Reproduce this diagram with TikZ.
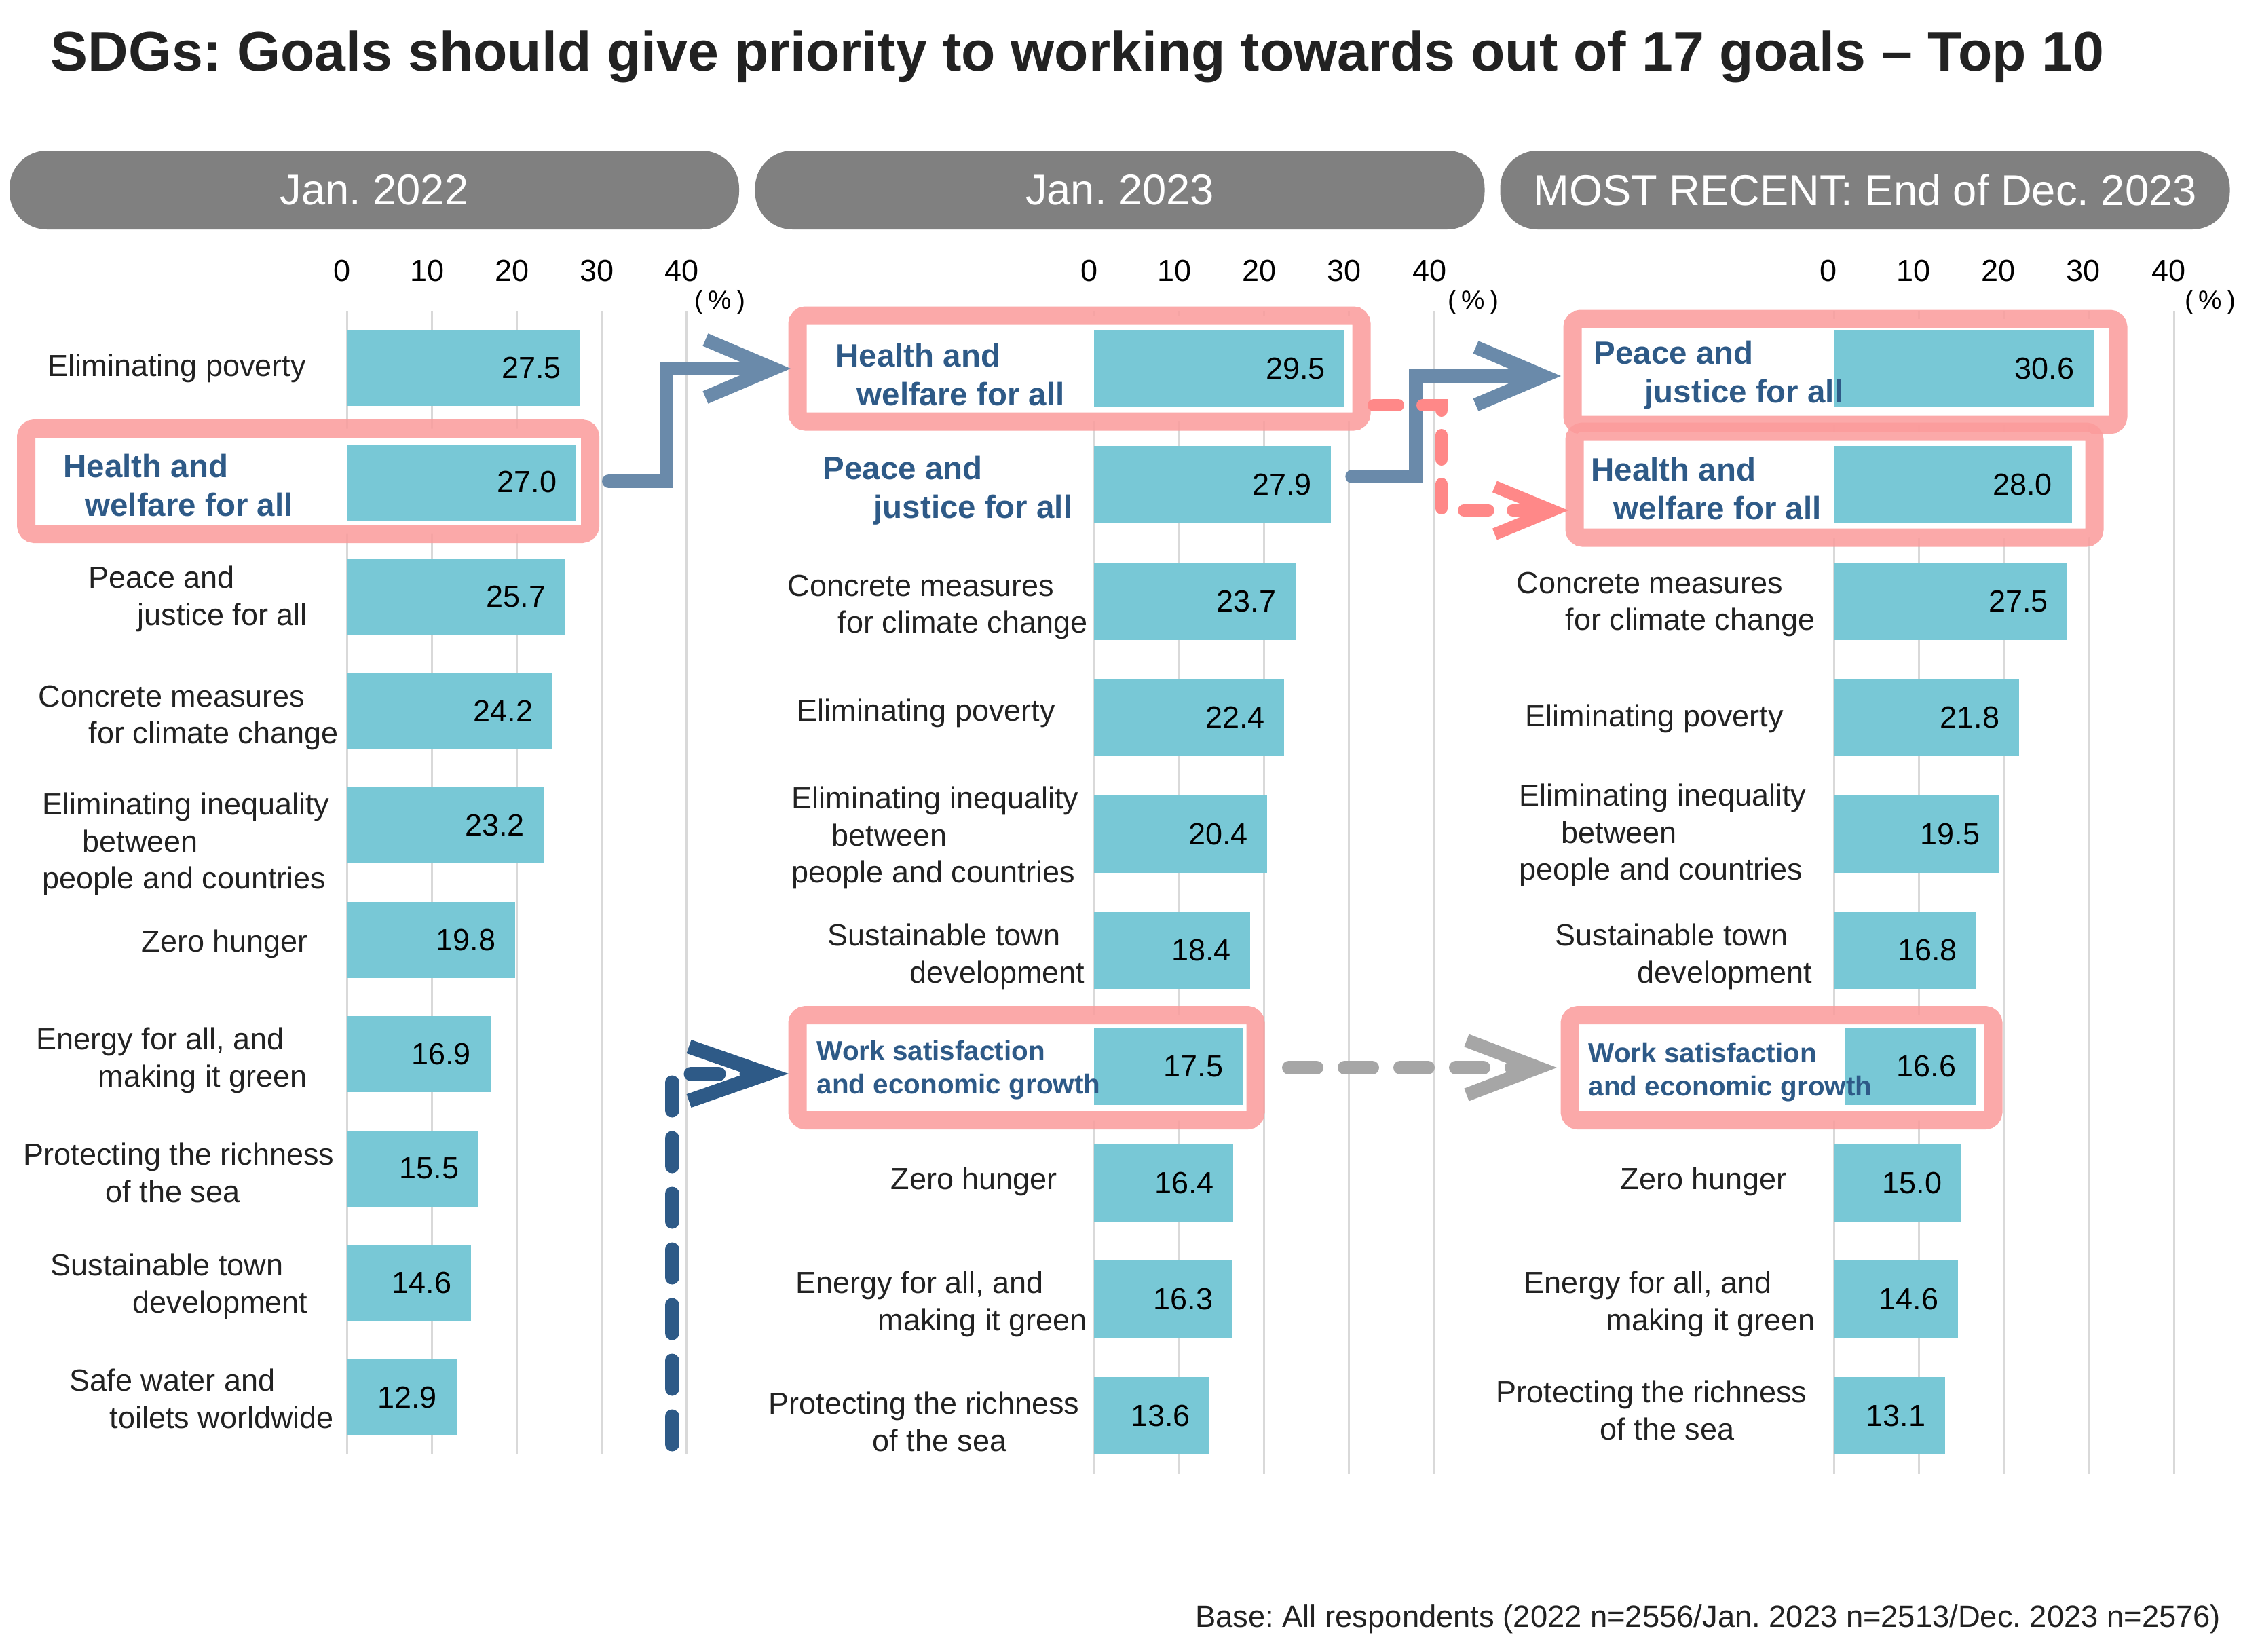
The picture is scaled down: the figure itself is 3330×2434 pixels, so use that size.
\documentclass[tikz,border=0pt]{standalone}
\usepackage{fontspec}
\setmainfont{Liberation Sans}
\usepackage{xcolor}
\usepackage{tikz}
\usetikzlibrary{arrows.meta}
\frenchspacing

\definecolor{headgray}{RGB}{128,128,128}
\definecolor{barteal}{RGB}{120,200,214}
\definecolor{gridgray}{RGB}{217,217,217}
\definecolor{hlpink}{RGB}{251,155,155}
\definecolor{hiblue}{RGB}{46,90,135}
\definecolor{slateblue}{RGB}{106,138,170}
\definecolor{dashpink}{RGB}{255,136,136}
\definecolor{dashgray}{RGB}{166,166,166}
\definecolor{inktext}{RGB}{34,34,34}

\begin{document}
\begin{tikzpicture}[x=0.1mm, y=-0.1mm,
    pill/.style={fill=headgray, rounded corners=5.5mm, minimum width=107.5mm, minimum height=11.6mm, inner sep=0, text=white, font=\fontsize{18}{21}\selectfont},
    tick/.style={inner sep=0, font=\fontsize{12.8}{15}\selectfont},
    unit/.style={inner sep=0, font=\fontsize{11}{13}\selectfont},
    gridline/.style={draw=gridgray, line width=0.3mm},
    hlbox/.style={draw=hlpink, draw opacity=0.85, fill=white, line width=2.7mm, rounded corners=1.2mm, inner sep=0, outer sep=0},
    barA/.style={fill=barteal, anchor=west, minimum height=11.2mm, inner sep=0, outer sep=0},
    barB/.style={barA, minimum height=11.4mm},
    val/.style={anchor=east, inner sep=0, font=\fontsize{12.8}{15}\selectfont},
    lab/.style={anchor=north west, align=left, inner sep=0, text=inktext, font=\fontsize{12.8}{15.6}\selectfont},
    hilab/.style={lab, text=hiblue, font=\fontsize{13.5}{16.2}\selectfont\bfseries},
    worklab/.style={lab, text=hiblue, font=\fontsize{11.5}{14.2}\selectfont\bfseries},
    moveup/.style={draw=slateblue, line width=2mm, line cap=round, -{Straight Barb[length=10mm, width=8.5mm]}},
    movedown/.style={draw=dashpink, line width=1.8mm, line cap=round, dash pattern=on 3.6mm off 3.6mm, -{Straight Barb[length=8.5mm, width=7mm]}},
    newentry/.style={draw=hiblue, line width=2.1mm, line cap=round, dash pattern=on 4.1mm off 4.1mm, -{Straight Barb[length=11.5mm, width=8mm]}},
    stayed/.style={draw=dashgray, line width=2mm, line cap=round, dash pattern=on 4.1mm off 4.1mm, -{Straight Barb[length=10.5mm, width=8mm]}}]

    \path[use as bounding box, fill=white] (0,0) rectangle (3330,2434);

    % title and headers
    \node[anchor=base west, inner sep=0, text=inktext, font=\fontsize{23.45}{28}\selectfont\bfseries] (title) at (74,105) {SDGs: Goals should give priority to working towards out of 17 goals -- Top 10};
    \node[pill] (pA) at (551.5,280) {Jan. 2022};
    \node[pill] (pB) at (1650,280) {Jan. 2023};
    \node[pill] (pC) at (2748,280) {MOST RECENT: End of Dec. 2023};

    % axes
    \foreach \k/\t in {0/0,1/10,2/20,3/30,4/40} {
        \draw[gridline] (511+125.2*\k,458) -- (511+125.2*\k,2142);
        \draw[gridline] (1612+125.3*\k,458) -- (1612+125.3*\k,2172);
        \draw[gridline] (2702+125.3*\k,458) -- (2702+125.3*\k,2172);
        \node[tick] (tA\k) at (504+125.2*\k,399) {\t};
        \node[tick] (tB\k) at (1605+125.3*\k,399) {\t};
        \node[tick] (tC\k) at (2694+125.3*\k,399) {\t};
    }
    \node[unit] (uA) at (1061,445) {(\hspace{0.2em}\%\hspace{0.2em})};
    \node[unit] (uB) at (2171,445) {(\hspace{0.2em}\%\hspace{0.2em})};
    \node[unit] (uC) at (3257,445) {(\hspace{0.2em}\%\hspace{0.2em})};

    % highlight boxes
    \node[hlbox, minimum width=83.1mm, minimum height=15.5mm] (hA) at (454,709) {};
    \node[hlbox, minimum width=83.1mm, minimum height=15.6mm] (hB1) at (1590.5,543) {};
    \node[hlbox, minimum width=67.5mm, minimum height=15.5mm] (hB7) at (1512.5,1573) {};
    \node[hlbox, minimum width=80.4mm, minimum height=15.6mm] (hC1) at (2719,548) {};
    \node[hlbox, minimum width=76.6mm, minimum height=15.6mm] (hC2) at (2703,714) {};
    \node[hlbox, minimum width=62.4mm, minimum height=15.5mm] (hC7) at (2625,1573) {};

    % Jan. 2022
    \node[barA, minimum width=27.5*1.252mm] (ba1) at (511,542) {};
    \node[barA, minimum width=27.0*1.252mm] (ba2) at (511,710.5) {};
    \node[barA, minimum width=25.7*1.252mm] (ba3) at (511,879) {};
    \node[barA, minimum width=24.2*1.252mm] (ba4) at (511,1047.5) {};
    \node[barA, minimum width=23.2*1.252mm] (ba5) at (511,1216) {};
    \node[barA, minimum width=19.8*1.252mm] (ba6) at (511,1384.5) {};
    \node[barA, minimum width=16.9*1.252mm] (ba7) at (511,1553) {};
    \node[barA, minimum width=15.5*1.252mm] (ba8) at (511,1721.5) {};
    \node[barA, minimum width=14.6*1.252mm] (ba9) at (511,1890) {};
    \node[barA, minimum width=12.9*1.252mm] (ba10) at (511,2058.5) {};
    \node[val] (va1) at ([xshift=-2.8mm]ba1.east) {27.5};
    \node[val] (va2) at ([xshift=-2.8mm]ba2.east) {27.0};
    \node[val] (va3) at ([xshift=-2.8mm]ba3.east) {25.7};
    \node[val] (va4) at ([xshift=-2.8mm]ba4.east) {24.2};
    \node[val] (va5) at ([xshift=-2.8mm]ba5.east) {23.2};
    \node[val] (va6) at ([xshift=-2.8mm]ba6.east) {19.8};
    \node[val] (va7) at ([xshift=-2.8mm]ba7.east) {16.9};
    \node[val] (va8) at ([xshift=-2.8mm]ba8.east) {15.5};
    \node[val] (va9) at ([xshift=-2.8mm]ba9.east) {14.6};
    \node[val] (va10) at ([xshift=-2.8mm]ba10.east) {12.9};
    \node[lab] (la1) at (70,521) {Eliminating poverty};
    \node[hilab] (la2) at (93,668) {Health and\\\hspace*{3.2mm}welfare for all};
    \node[lab] (la3) at (130,833) {Peace and\\\hspace*{7.2mm}justice for all};
    \node[lab] (la4) at (56,1009) {Concrete measures\\\hspace*{7.4mm}for climate change};
    \node[lab] (la5) at (62,1167) {Eliminating inequality\\\hspace*{5.9mm}between\\people and countries};
    \node[lab] (la6) at (208,1369) {Zero hunger};
    \node[lab] (la7) at (53,1513) {Energy for all, and\\\hspace*{9.1mm}making it green};
    \node[lab] (la8) at (34,1683) {Protecting the richness\\\hspace*{12.1mm}of the sea};
    \node[lab] (la9) at (74,1846) {Sustainable town\\\hspace*{12.1mm}development};
    \node[lab] (la10) at (102,2016) {Safe water and\\\hspace*{5.9mm}toilets worldwide};

    % Jan. 2023
    \node[barB, minimum width=29.5*1.252mm] (bb1) at (1612,543) {};
    \node[barB, minimum width=27.9*1.252mm] (bb2) at (1612,714.4) {};
    \node[barB, minimum width=23.7*1.252mm] (bb3) at (1612,885.8) {};
    \node[barB, minimum width=22.4*1.252mm] (bb4) at (1612,1057.2) {};
    \node[barB, minimum width=20.4*1.252mm] (bb5) at (1612,1228.6) {};
    \node[barB, minimum width=18.4*1.252mm] (bb6) at (1612,1400) {};
    \node[barB, minimum width=17.5*1.252mm] (bb7) at (1612,1571.4) {};
    \node[barB, minimum width=16.4*1.252mm] (bb8) at (1612,1742.8) {};
    \node[barB, minimum width=16.3*1.252mm] (bb9) at (1612,1914.2) {};
    \node[barB, minimum width=13.6*1.252mm] (bb10) at (1612,2085.6) {};
    \node[val] (vb1) at ([xshift=-2.8mm]bb1.east) {29.5};
    \node[val] (vb2) at ([xshift=-2.8mm]bb2.east) {27.9};
    \node[val] (vb3) at ([xshift=-2.8mm]bb3.east) {23.7};
    \node[val] (vb4) at ([xshift=-2.8mm]bb4.east) {22.4};
    \node[val] (vb5) at ([xshift=-2.8mm]bb5.east) {20.4};
    \node[val] (vb6) at ([xshift=-2.8mm]bb6.east) {18.4};
    \node[val] (vb7) at ([xshift=-2.8mm]bb7.east) {17.5};
    \node[val] (vb8) at ([xshift=-2.8mm]bb8.east) {16.4};
    \node[val] (vb9) at ([xshift=-2.8mm]bb9.east) {16.3};
    \node[val] (vb10) at ([xshift=-2.8mm]bb10.east) {13.6};
    \node[hilab] (lb1) at (1231,505) {Health and\\\hspace*{3.1mm}welfare for all};
    \node[hilab] (lb2) at (1212,671) {Peace and\\\hspace*{7.5mm}justice for all};
    \node[lab] (lb3) at (1160,846) {Concrete measures\\\hspace*{7.4mm}for climate change};
    \node[lab] (lb4) at (1174,1029) {Eliminating poverty};
    \node[lab] (lb5) at (1166,1158) {Eliminating inequality\\\hspace*{5.9mm}between\\people and countries};
    \node[lab] (lb6) at (1219,1360) {Sustainable town\\\hspace*{12.1mm}development};
    \node[worklab] (lb7) at (1203,1532) {Work satisfaction\\and economic growth};
    \node[lab] (lb8) at (1312,1719) {Zero hunger};
    \node[lab] (lb9) at (1172,1872) {Energy for all, and\\\hspace*{12.1mm}making it green};
    \node[lab] (lb10) at (1132,2050) {Protecting the richness\\\hspace*{15.3mm}of the sea};

    % End of Dec. 2023
    \node[barB, minimum width=30.6*1.252mm] (bc1) at (2702,543) {};
    \node[barB, minimum width=28.0*1.252mm] (bc2) at (2702,714.4) {};
    \node[barB, minimum width=27.5*1.252mm] (bc3) at (2702,885.8) {};
    \node[barB, minimum width=21.8*1.252mm] (bc4) at (2702,1057.2) {};
    \node[barB, minimum width=19.5*1.252mm] (bc5) at (2702,1228.6) {};
    \node[barB, minimum width=16.8*1.252mm] (bc6) at (2702,1400) {};
    \node[barB, minimum width=15.4*1.252mm] (bc7) at (2718,1571.4) {};
    \node[barB, minimum width=15.0*1.252mm] (bc8) at (2702,1742.8) {};
    \node[barB, minimum width=14.6*1.252mm] (bc9) at (2702,1914.2) {};
    \node[barB, minimum width=13.1*1.252mm] (bc10) at (2702,2085.6) {};
    \node[val] (vc1) at ([xshift=-2.8mm]bc1.east) {30.6};
    \node[val] (vc2) at ([xshift=-2.8mm]bc2.east) {28.0};
    \node[val] (vc3) at ([xshift=-2.8mm]bc3.east) {27.5};
    \node[val] (vc4) at ([xshift=-2.8mm]bc4.east) {21.8};
    \node[val] (vc5) at ([xshift=-2.8mm]bc5.east) {19.5};
    \node[val] (vc6) at ([xshift=-2.8mm]bc6.east) {16.8};
    \node[val] (vc7) at ([xshift=-2.8mm]bc7.east) {16.6};
    \node[val] (vc8) at ([xshift=-2.8mm]bc8.east) {15.0};
    \node[val] (vc9) at ([xshift=-2.8mm]bc9.east) {14.6};
    \node[val] (vc10) at ([xshift=-2.8mm]bc10.east) {13.1};
    \node[hilab] (lc1) at (2348,501) {Peace and\\\hspace*{7.5mm}justice for all};
    \node[hilab] (lc2) at (2344,673) {Health and\\\hspace*{3.3mm}welfare for all};
    \node[lab] (lc3) at (2234,842) {Concrete measures\\\hspace*{7.2mm}for climate change};
    \node[lab] (lc4) at (2247,1037) {Eliminating poverty};
    \node[lab] (lc5) at (2238,1154) {Eliminating inequality\\\hspace*{6.2mm}between\\people and countries};
    \node[lab] (lc6) at (2291,1360) {Sustainable town\\\hspace*{12.1mm}development};
    \node[worklab] (lc7) at (2340,1535) {Work satisfaction\\and economic growth};
    \node[lab] (lc8) at (2387,1719) {Zero hunger};
    \node[lab] (lc9) at (2245,1872) {Energy for all, and\\\hspace*{12.1mm}making it green};
    \node[lab] (lc10) at (2204,2033) {Protecting the richness\\\hspace*{15.3mm}of the sea};

    % rank changes
    \coordinate (newB) at (990,2128);
    \draw[moveup] ([xshift=2.75mm]hA.east) -- ++(84.5,0) |- ([xshift=-1mm]hB1.west);
    \draw[moveup] ([xshift=3.1mm, yshift=1.2mm]bb2.east) -- ++(93.5,0) |- ([xshift=-1.7mm, yshift=-0.6mm]hC1.west);
    \draw[movedown] ([xshift=1.8mm, yshift=2.4mm]hB1.south east) -- ++(100,0) |- ([xshift=-0.9mm, yshift=-3.8mm]hC2.west);
    \draw[newentry] (newB) |- ([xshift=-1.3mm, yshift=-0.9mm]hB7.west);
    \draw[stayed] ([xshift=4.9mm]hB7.east) -- ([xshift=-1.9mm]hC7.west);

    \node[anchor=base east, inner sep=0, text=inktext, font=\fontsize{12.9}{15}\selectfont] (base) at (3273,2397) {Base: All respondents (2022 n=2556/Jan. 2023 n=2513/Dec. 2023 n=2576)};
\end{tikzpicture}
\end{document}
